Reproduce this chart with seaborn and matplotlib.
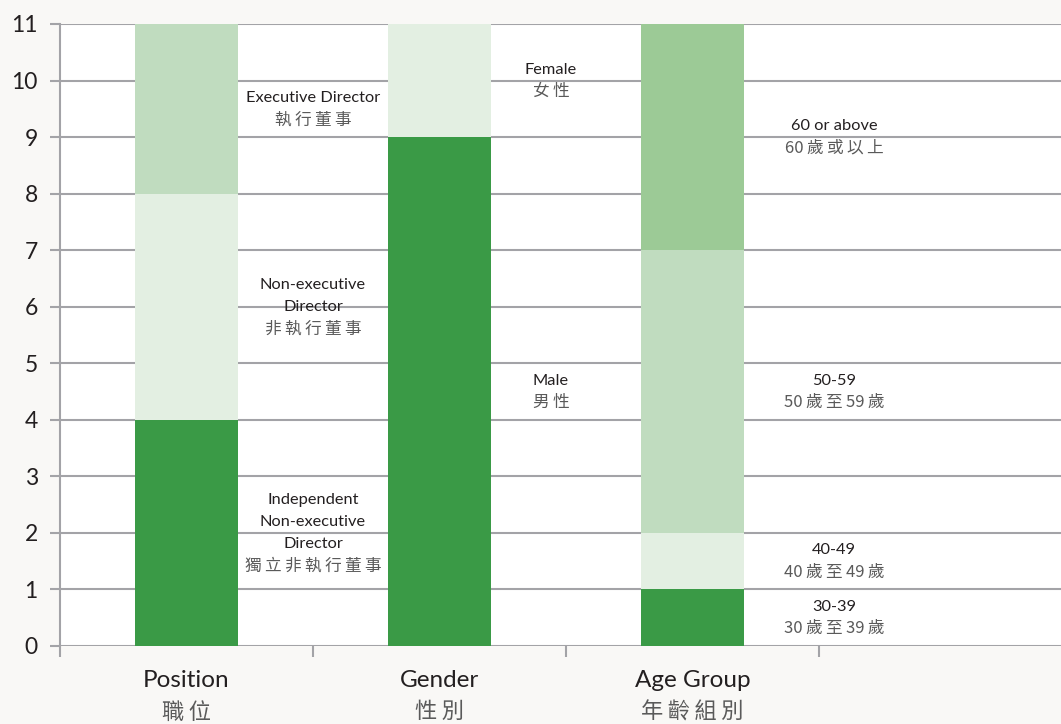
import pandas as pd
import seaborn as sns
from matplotlib import pyplot as plt
from matplotlib import transforms

# categories on the x axis
groups = ["Position", "Gender", "Age Group"]
groups_zh = ["職位", "性別", "年齡組別"]

# stack segments (bottom to top) for each group
segment_group = ["Position", "Position", "Position",
                 "Gender", "Gender",
                 "Age Group", "Age Group", "Age Group", "Age Group"]
segment_en = ["Independent\nNon-executive\nDirector", "Non-executive\nDirector", "Executive Director",
              "Male", "Female",
              "30-39", "40-49", "50-59", "60 or above"]
segment_zh = ["獨立非執行董事", "非執行董事", "執行董事",
              "男性", "女性",
              "30歲至39歲", "40歲至49歲", "50歲至59歲", "60歲或以上"]
segment_value = [4, 4, 3,
                 9, 2,
                 1, 1, 5, 4]
segment_shade = ["dark", "pale", "light",
                 "dark", "pale",
                 "dark", "pale", "light", "mid"]

# label x position (in category units) for each group's annotations
label_x = {"Position": 0.5, "Gender": 1.44, "Age Group": 2.56}

shade_colors = {"dark": "#3a9a46", "pale": "#e3efe2", "light": "#c0dcbf", "mid": "#9cca96"}
EN_COLOR = "#231f20"
ZH_COLOR = "#5a5a5a"
GRID_COLOR = "#a3a3a7"


def spaced(s):
    # letter-space the CJK characters, keep digit runs together
    out = s[0]
    for prev, ch in zip(s, s[1:]):
        if prev.isascii() and ch.isascii():
            out += ch
        else:
            out += "\u2009" + ch
    return out


df = pd.DataFrame({
    "group": segment_group,
    "en": segment_en,
    "zh": segment_zh,
    "value": segment_value,
    "shade": segment_shade,
})
df["top"] = df.groupby("group")["value"].cumsum()
df["bottom"] = df["top"] - df["value"]

sns.set_style("white")
plt.rcParams["font.family"] = ["Lato", "Noto Sans CJK TC", "DejaVu Sans"]

fig = plt.figure(figsize=(10.61, 7.24), dpi=100, facecolor="#f9f8f6")
ax = fig.add_axes([60 / 1061, 1 - 646 / 724, 1 - 60 / 1061, 622 / 724])
ax.set_facecolor("white")

# draw cumulative tops, highest first, so lower segments paint over
for _, row in df.sort_values("top", ascending=False).iterrows():
    sns.barplot(x=[row["group"]], y=[row["top"]], order=groups, ax=ax,
                color=shade_colors[row["shade"]], width=0.405, saturation=1,
                linewidth=0, zorder=2)

ax.set_xlim(-0.5, 3.456)
ax.set_ylim(0, 11)
ax.set_yticks(range(0, 12))
ax.set_xticks([-0.5, 0.5, 1.5, 2.5])
ax.set_xticklabels([])
ax.yaxis.grid(True, color=GRID_COLOR, linewidth=1.5)
ax.set_axisbelow(True)
ax.tick_params(axis="y", length=7, width=1.5, color=GRID_COLOR, labelsize=16.5,
               labelcolor=EN_COLOR, pad=9, left=True)
ax.tick_params(axis="x", length=8, width=1.5, color=GRID_COLOR, bottom=True)
ax.set_xlabel("")
ax.set_ylabel("")
for side in ["top", "right"]:
    ax.spines[side].set_visible(False)
ax.spines["bottom"].set_visible(False)
ax.spines["left"].set_color(GRID_COLOR)
ax.spines["left"].set_linewidth(1.5)

# segment annotations, one text per line so the line step is even
line_h = 0.39
for _, row in df.iterrows():
    mid = (row["bottom"] + row["top"]) / 2
    lines = row["en"].split("\n")
    n = len(lines) + 1
    x = label_x[row["group"]]
    first = mid + (n - 1) * line_h / 2
    for k, line in enumerate(lines):
        ax.text(x, first - k * line_h, line, ha="center", va="center",
                fontsize=11.8, color=EN_COLOR)
    ax.text(x, first - len(lines) * line_h, spaced(row["zh"]), ha="center", va="center",
            fontsize=12, color=ZH_COLOR,
            family=["Noto Sans CJK TC", "DejaVu Sans"])

# category labels under the axis
trans = transforms.blended_transform_factory(ax.transData, ax.transAxes)
for i, (en, zh) in enumerate(zip(groups, groups_zh)):
    ax.text(i, -0.056, en, transform=trans, ha="center", va="center",
            fontsize=17.5, color=EN_COLOR)
    ax.text(i, -0.106, spaced(zh), transform=trans, ha="center", va="center",
            fontsize=16, color=ZH_COLOR,
            family=["Noto Sans CJK TC", "DejaVu Sans"])

fig.savefig("out.png", dpi=100, facecolor=fig.get_facecolor())
